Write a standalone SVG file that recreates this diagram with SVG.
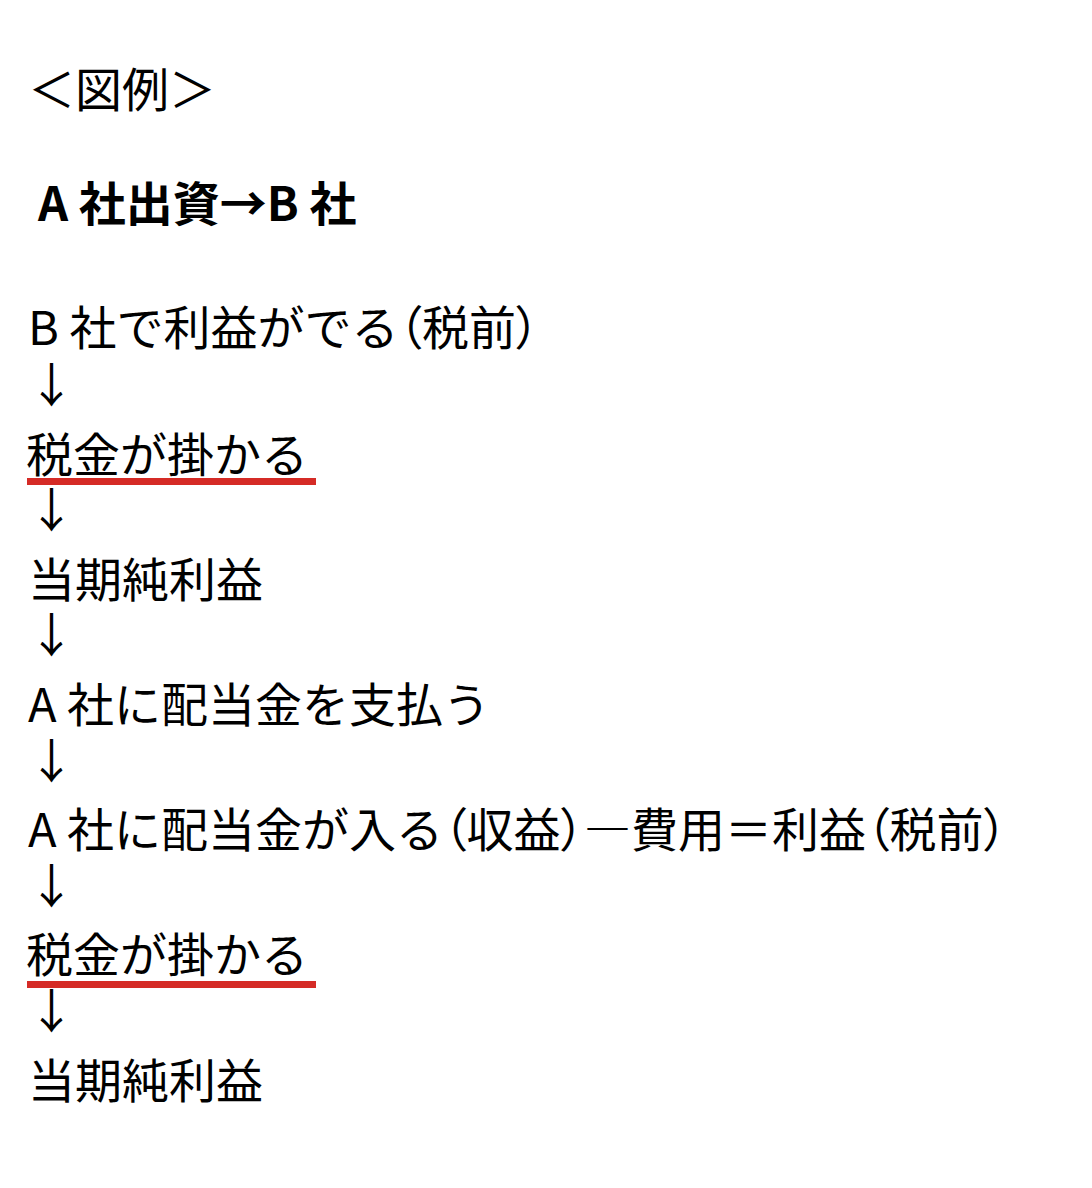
<svg xmlns="http://www.w3.org/2000/svg" width="1092" height="1188" viewBox="0 0 1092 1188">
<style>
.t{font-family:"Noto Sans CJK JP","Noto Sans CJK SC",sans-serif;font-size:47px;fill:#000}
.b{font-weight:bold}
.p{font-feature-settings:"palt" 1}
.ar{font-family:"Noto Sans CJK JP",sans-serif;font-size:47px;fill:#000}
.ul{fill:#d52b26}
</style>
<rect width="1092" height="1188" fill="#fff"/>
<g id="legend"><text class="t" x="28" y="107">＜図例＞</text></g>
<g id="title"><text class="t b" x="38" y="221">A 社出資→B 社</text></g>
<g id="n1"><text class="t" x="28" y="345">B 社で利益がでる<tspan class="p">（</tspan>税前<tspan class="p">）</tspan></text></g>
<g id="n2"><text class="t" x="26" y="472">税金が掛かる</text><rect class="ul" x="27" y="478" width="289" height="7"/></g>
<g id="n3"><text class="t" x="28" y="597">当期純利益</text></g>
<g id="n4"><text class="t" x="28" y="722">A 社に配当金を支払う</text></g>
<g id="n5"><text class="t" x="28" y="847">A 社に配当金が入る<tspan class="p">（</tspan>収益<tspan class="p">）</tspan>―費用＝利益<tspan class="p">（</tspan>税前<tspan class="p">）</tspan></text></g>
<g id="n6"><text class="t" x="26" y="972">税金が掛かる</text><rect class="ul" x="27" y="981" width="289" height="7"/></g>
<g id="n7"><text class="t" x="28" y="1098">当期純利益</text></g>
<g id="connectors">
<text class="ar" x="28" y="402">↓</text>
<text class="ar" x="28" y="527">↓</text>
<text class="ar" x="28" y="652">↓</text>
<text class="ar" x="28" y="778">↓</text>
<text class="ar" x="28" y="903">↓</text>
<text class="ar" x="28" y="1028">↓</text>
</g>
</svg>
